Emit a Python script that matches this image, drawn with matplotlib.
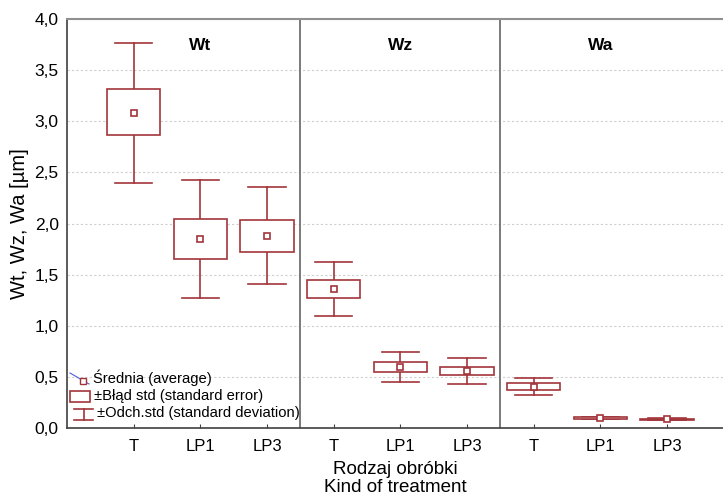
import matplotlib
matplotlib.use("Agg")
import matplotlib.pyplot as plt
from matplotlib.patches import Rectangle
from matplotlib.lines import Line2D
import numpy as np

plt.rcParams['font.family'] = ['Liberation Sans', 'DejaVu Sans']

# group / category layout
groups = ['Wt', 'Wz', 'Wa']
treatments = ['T', 'LP1', 'LP3']

# values (mean, +-standard error, +-standard deviation)
means = [3.08, 1.85, 1.88, 1.36, 0.60, 0.56, 0.40, 0.097, 0.087]
se_low = [2.865, 1.65, 1.72, 1.27, 0.545, 0.515, 0.37, 0.092, 0.082]
se_high = [3.315, 2.04, 2.035, 1.45, 0.65, 0.60, 0.437, 0.103, 0.092]
sd_low = [2.40, 1.27, 1.41, 1.10, 0.447, 0.427, 0.32, 0.084, 0.075]
sd_high = [3.765, 2.43, 2.36, 1.62, 0.746, 0.688, 0.49, 0.11, 0.098]

col = '#A2353A'
W, H = 723, 504

fig = plt.figure(figsize=(W / 100, H / 100), dpi=100)
ax = fig.add_axes([67 / W, (H - 428) / H, 1 - 67 / W, (428 - 19) / H])

x = np.arange(1, len(means) + 1)
bw = 0.40
cw = 0.28
for xi, m, sl, sh, dl, dh in zip(x, means, se_low, se_high, sd_low, sd_high):
    ax.plot([xi, xi], [sh, dh], color=col, lw=1.2, zorder=3)
    ax.plot([xi, xi], [dl, sl], color=col, lw=1.2, zorder=3)
    ax.plot([xi - cw, xi + cw], [dh, dh], color=col, lw=1.2, zorder=3)
    ax.plot([xi - cw, xi + cw], [dl, dl], color=col, lw=1.2, zorder=3)
    ax.add_patch(Rectangle((xi - bw, sl), 2 * bw, sh - sl, facecolor='white',
                           edgecolor=col, lw=1.2, zorder=4))
    ax.plot(xi, m, marker='s', ms=5, mfc='white', mec=col, mew=1.2, zorder=5)

# group dividers and titles
for d in [3.5, 6.5]:
    ax.axvline(d, color='#707070', lw=1.3, zorder=2)
for i, g in enumerate(groups):
    ax.text(3 * i + 2, 3.74, g, ha='center', va='center', fontsize=12.5,
            fontweight='bold')

ax.set_xlim(0, 9.84)
ax.set_ylim(0, 4.0)
ax.set_xticks(x)
ax.set_xticklabels(treatments * 3, fontsize=12)
yt = np.arange(0, 4.01, 0.5)
ax.set_yticks(yt)
ax.set_yticklabels([f'{v:.1f}'.replace('.', ',') for v in yt], fontsize=12.5)
ax.tick_params(axis='y', length=0, pad=6)
ax.tick_params(axis='x', direction='in', length=3, pad=8, color='#404040')
ax.yaxis.grid(True, color='#cfcfcf', ls=(0, (2, 2)), lw=0.8)
ax.set_axisbelow(True)

for s in ['left', 'bottom']:
    ax.spines[s].set_color('#404040')
    ax.spines[s].set_linewidth(1.2)
ax.spines['top'].set_color('#909090')
ax.spines['top'].set_linewidth(1.5)
ax.spines['right'].set_visible(False)

ax.set_ylabel('Wt, Wz, Wa [µm]', fontsize=14.5, labelpad=4)
ax.set_xlabel('Rodzaj obróbki\nKind of treatment', fontsize=13.5, labelpad=5,
              linespacing=1.05)


# hand-drawn legend in pixel coordinates
def fx(px):
    return px / W


def fy(py):
    return 1 - py / H


fig.add_artist(Line2D([fx(70), fx(89)], [fy(373), fy(384)], color='#4a5ee0',
                      lw=0.8))
fig.add_artist(Line2D([fx(82.5)], [fy(380.5)], marker='s', ms=4, mfc='white',
                      mec=col, mew=1.0))
fig.text(fx(93), fy(378), 'Średnia (average)', fontsize=10.6, va='center')
fig.add_artist(Rectangle((fx(69.5), fy(401.5)), fx(20), 11 / H, facecolor='white',
                         edgecolor=col, lw=1.2, transform=fig.transFigure))
fig.text(fx(94), fy(396), '±Błąd std (standard error)', fontsize=10.6, va='center')
for a, b in [([74, 93], [409, 409]), ([74, 93], [420, 420]), ([83.5, 83.5], [409, 420])]:
    fig.add_artist(Line2D([fx(a[0]), fx(a[1])], [fy(b[0]), fy(b[1])], color=col,
                          lw=1.2))
fig.text(fx(97), fy(412.5), '±Odch.std (standard deviation)', fontsize=10.6,
         va='center')

fig.savefig('out.png', dpi=100)
